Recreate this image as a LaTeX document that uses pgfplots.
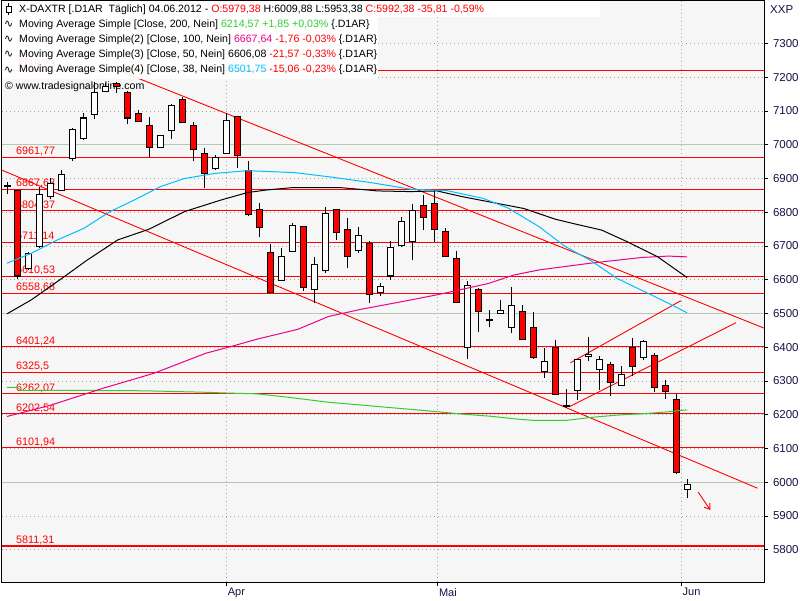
\documentclass[border=0pt]{standalone}
\usepackage{pgfplots}
\pgfplotsset{compat=1.18}
\usepackage{pgfplotstable}
\usetikzlibrary{arrows.meta}
\usepackage{fontspec}
\setmainfont{Liberation Sans}
\newfontfamily\dejavu{DejaVu Sans}

\definecolor{bg}{RGB}{246,246,246}
\definecolor{gridsolid}{RGB}{180,200,180}
\definecolor{griddot}{RGB}{165,165,165}
\definecolor{ma200}{RGB}{50,205,50}
\definecolor{ma38}{RGB}{0,191,255}
\definecolor{navy}{RGB}{20,20,70}

\newcommand{\legfont}{\fontsize{10.6}{12}\selectfont}
\newcommand{\lvlfont}{\fontsize{10.8}{12}\selectfont}
\pgfplotsset{candle/.style={draw=none, no markers, forget plot,
  error bars/.cd, y dir=plus, y explicit, error mark=none}}

% rising candles: index open high low close
\pgfplotstableread{
i o h l c
0 6877 6888 6854 6880
2 6634 6681 6630 6678
3 6698 6874 6695 6851
4 6847 6901 6839 6886
5 6863 6924 6862 6913
6 6958 7048 6953 7045
7 7017 7094 7015 7079
8 7089 7185 7076 7154
9 7157 7184 7155 7171
14 6992 7028 6990 7027
15 7043 7121 7018 7116
19 6928 6970 6924 6962
20 6975 7094 6974 7071
25 6598 6695 6596 6670
26 6684 6769 6683 6762
28 6571 6668 6530 6644
29 6627 6814 6619 6797
32 6686 6756 6680 6730
34 6563 6589 6553 6581
35 6611 6715 6599 6696
36 6702 6787 6698 6772
37 6713 6825 6657 6805
42 6400 6597 6366 6584
44 6478 6510 6459 6481
45 6500 6540 6498 6509
46 6459 6577 6443 6524
49 6327 6398 6309 6357
51 6223 6275 6220 6226
52 6272 6365 6243 6363
53 6373 6429 6359 6379
54 6334 6373 6274 6364
56 6288 6344 6284 6319
58 6369 6420 6361 6418
62 5979.38 6009.88 5953.38 5992.38
}\up

% falling candles
\pgfplotstableread{
i o h l c
1 6863 6866 6601 6611
10 7181 7185 7154 7171
11 7154 7158 7061 7079
12 7091 7104 7068 7069
13 7058 7082 6963 6992
16 7135 7140 7066 7067
17 7057 7067 6953 6985
18 6975 6990 6871 6916
21 7082 7084 6931 6968
22 6924 6953 6789 6792
23 6809 6827 6728 6756
24 6681 6706 6562 6563
27 6758 6760 6567 6577
30 6807 6808 6718 6741
31 6750 6783 6634 6670
33 6706 6715 6530 6557
38 6821 6852 6747 6785
39 6827 6866 6713 6750
40 6744 6753 6667 6669
41 6662 6686 6532 6533
43 6571 6575 6446 6506
47 6506 6525 6423 6424
48 6459 6505 6366 6371
50 6399 6421 6259 6260
55 6349 6356 6257 6295
57 6399 6427 6314 6342
59 6376 6383 6267 6280
60 6287 6304 6248 6268
61 6246 6262 6025 6028
}\dn

\pgfplotstableread{
x y
0 6281
0.9 6281
1.3 6272
7.3 6272
12.5 6271
17.6 6267
20.4 6264
22.8 6262
25.6 6252
29.3 6237
32.2 6229
35.0 6221
38.2 6212
41.5 6202
44.3 6195
46.2 6188
48.1 6183
50.9 6183
53.2 6192
55.6 6199
58.4 6204
60.3 6209
62.0 6214.57
}\maA

\pgfplotstableread{
x y
0 6195
4.05 6229
8.7 6278
13.4 6323
18.1 6382
20.4 6402
22.8 6424
26.5 6453
29.3 6491
32.2 6512
36.8 6540
39.6 6558
43.9 6589
46.2 6614
48.5 6629
53.2 6649
57.9 6666
60.3 6670
62 6667.64
}\maB

\pgfplotstableread{
x y
0 6499
2.2 6540
5.0 6604
7.3 6658
10.1 6718
12.9 6749
16.2 6802
19.5 6836
21.9 6858
23.7 6866
26.1 6873
30.3 6873
33.8 6863
36.8 6861
39.2 6863
41.5 6846
43.9 6831
47.1 6811
50.0 6779
51.8 6765
54.2 6747
56.5 6713
59.3 6668
62 6606.08
}\maC

\pgfplotstableread{
x y
0 6649
2.2 6678
4.6 6718
7.0 6752
9.4 6802
11.6 6836
14.0 6876
16.2 6900
19.0 6915
21.9 6923
24.2 6920
26.3 6917
29.8 6903
33.1 6888
36.8 6868
40.1 6864
43.4 6841
45.7 6812
48.5 6757
50.9 6698
53.2 6657
55.6 6604
58.4 6560
60.3 6530
62 6501.75
}\maD

\begin{document}
\begin{tikzpicture}[x=1pt,y=1pt]
\useasboundingbox (0,0) rectangle (800,600);
\begin{axis}[
  at={(2pt,18pt)}, anchor=south west,
  width=762pt, height=581pt, scale only axis,
  xmin=-0.456, xmax=69.0, ymin=5704.6, ymax=7425.6,
  axis background/.style={fill=bg},
  axis line style={black, line width=1pt},
  ytick={5800,5900,...,7300},
  ytick pos=right, yticklabel pos=right,
  xtick={20.02,39.27,61.48}, xticklabels={Apr,Mai,Jun},
  xtick pos=bottom,
  tick align=outside,
  major tick length=4pt,
  tick style={black, line width=0.8pt},
  ymajorgrids, xmajorgrids,
  major grid style={griddot, line width=0.8pt, dash pattern=on 1pt off 3pt},
  extra y ticks={6000,6500,7000}, extra y tick labels={,,},
  extra y tick style={grid=major, major grid style={draw=gridsolid, solid, line width=1pt}},
  yticklabel style={font=\fontsize{11.5}{13}\selectfont, text=navy, anchor=west, xshift=1.5pt},
  xticklabel style={font=\fontsize{11}{13}\selectfont, text=navy, anchor=north west, inner sep=0pt, xshift=1pt, yshift=-2pt},
  /pgf/number format/.cd, 1000 sep={}, assume math mode=true,
]
% horizontal levels
\pgfplotsinvokeforeach{7219.73,6961.77,6867.63,6804.37,6711.14,6610.53,6558.68,6401.24,6325.5,6262.07,6202.54,6101.94,5811.31}{
  \addplot[red, line width=1.2pt, forget plot] coordinates {(-1,#1) (70,#1)};
}
\node[anchor=base west, inner sep=0pt, text=red, font=\lvlfont, yshift=2.7pt] at (axis cs:0.82,7219.73) {7219,73};
\node[anchor=base west, inner sep=0pt, text=red, font=\lvlfont, yshift=2.7pt] at (axis cs:0.82,6961.77) {6961,77};
\node[anchor=base west, inner sep=0pt, text=red, font=\lvlfont, yshift=2.7pt] at (axis cs:0.82,6867.63) {6867,63};
\node[anchor=base west, inner sep=0pt, text=red, font=\lvlfont, yshift=2.7pt] at (axis cs:0.82,6804.37) {6804,37};
\node[anchor=base west, inner sep=0pt, text=red, font=\lvlfont, yshift=2.7pt] at (axis cs:0.82,6711.14) {6711,14};
\node[anchor=base west, inner sep=0pt, text=red, font=\lvlfont, yshift=2.7pt] at (axis cs:0.82,6610.53) {6610,53};
\node[anchor=base west, inner sep=0pt, text=red, font=\lvlfont, yshift=2.7pt] at (axis cs:0.82,6558.68) {6558,68};
\node[anchor=base west, inner sep=0pt, text=red, font=\lvlfont, yshift=2.7pt] at (axis cs:0.82,6401.24) {6401,24};
\node[anchor=base west, inner sep=0pt, text=red, font=\lvlfont, yshift=2.7pt] at (axis cs:0.82,6325.5) {6325,5};
\node[anchor=base west, inner sep=0pt, text=red, font=\lvlfont, yshift=2.7pt] at (axis cs:0.82,6262.07) {6262,07};
\node[anchor=base west, inner sep=0pt, text=red, font=\lvlfont, yshift=2.7pt] at (axis cs:0.82,6202.54) {6202,54};
\node[anchor=base west, inner sep=0pt, text=red, font=\lvlfont, yshift=2.7pt] at (axis cs:0.82,6101.94) {6101,94};
\node[anchor=base west, inner sep=0pt, text=red, font=\lvlfont, yshift=2.7pt] at (axis cs:0.82,5811.31) {5811,31};
\node[anchor=west, inner sep=0pt, font=\legfont] at (axis cs:-0.18,7171) {\textcopyright\ www.tradesignalonline.com};

% trend lines
\addplot[red, line width=0.9pt] coordinates {(10,7222) (69,6456.7)};
\addplot[red, line width=0.9pt] coordinates {(-0.46,6924.5) (68.4,5982.5)};
\addplot[red, line width=0.9pt] coordinates {(51.27,6224) (66.45,6472.7)};
\addplot[red, line width=0.9pt] coordinates {(51.36,6354) (61.43,6538)};
\addplot[red, line width=0.9pt, -{Straight Barb[length=5pt,width=7pt]}] coordinates {(63.0,5971) (64.1,5918)};

% candles: wick, outline, body
\addplot[candle, error bar style={draw=black, line width=1pt}] table[x=i, y=l, y error expr=\thisrow{h}-\thisrow{l}] {\up};
\addplot[candle, error bar style={draw=black, line width=1pt}] table[x=i, y=l, y error expr=\thisrow{h}-\thisrow{l}] {\dn};
\addplot[candle, error bar style={draw=black, line width=7pt}] table[x=i, y expr=\thisrow{o}-1.5, y error expr=\thisrow{c}-\thisrow{o}+3] {\up};
\addplot[candle, error bar style={draw=black, line width=7pt}] table[x=i, y expr=\thisrow{c}-1.5, y error expr=\thisrow{o}-\thisrow{c}+3] {\dn};
\addplot[candle, error bar style={draw=white, line width=5pt}] table[x=i, y expr=\thisrow{o}+1.5, y error expr=\thisrow{c}-\thisrow{o}-3] {\up};
\addplot[candle, error bar style={draw=red, line width=5pt}] table[x=i, y expr=\thisrow{c}+1.5, y error expr=\thisrow{o}-\thisrow{c}-3] {\dn};

% moving averages
\addplot[ma200, line width=1pt] table[x=x,y=y] {\maA};
\addplot[magenta, line width=1pt] table[x=x,y=y] {\maB};
\addplot[black, line width=1pt] table[x=x,y=y] {\maC};
\addplot[ma38, line width=1pt] table[x=x,y=y] {\maD};
\end{axis}

% legend block
\fill[white, opacity=0.9] (2,521) rectangle (378,599);
\fill[white, opacity=0.9] (378,583) rectangle (600,599);
\draw[black, line width=0.8pt] (8.5,584.5) -- (8.5,596.5);
\draw[black, fill=white, line width=0.8pt] (6,587.5) rectangle (11,593.5);
\node[anchor=west, inner sep=0pt, font=\legfont] at (19,590.5) {X-DAXTR [.D1AR\ \ Täglich] 04.06.2012 - \textcolor{red}{O:5979,38} H:6009,88 L:5953,38 \textcolor{red}{C:5992,38 -35,81 -0,59\%}};
\node[anchor=west, inner sep=0pt, font=\dejavu\fontsize{11}{12}\selectfont] at (4,575.5) {∿};
\node[anchor=west, inner sep=0pt, font=\dejavu\fontsize{11}{12}\selectfont] at (4,560.5) {∿};
\node[anchor=west, inner sep=0pt, font=\dejavu\fontsize{11}{12}\selectfont] at (4,545.5) {∿};
\node[anchor=west, inner sep=0pt, font=\dejavu\fontsize{11}{12}\selectfont] at (4,530) {∿};
\node[anchor=west, inner sep=0pt, font=\legfont] at (19,575.5) {Moving Average Simple [Close, 200, Nein] \textcolor{ma200}{6214,57 +1,85 +0,03\%} \{.D1AR\}};
\node[anchor=west, inner sep=0pt, font=\legfont] at (19,560.5) {Moving Average Simple(2) [Close, 100, Nein] \textcolor{magenta}{6667,64} \textcolor{red}{-1,76 -0,03\%} \{.D1AR\}};
\node[anchor=west, inner sep=0pt, font=\legfont] at (19,545.5) {Moving Average Simple(3) [Close, 50, Nein] 6606,08 \textcolor{red}{-21,57 -0,33\%} \{.D1AR\}};
\node[anchor=west, inner sep=0pt, font=\legfont] at (19,530) {Moving Average Simple(4) [Close, 38, Nein] \textcolor{ma38}{6501,75} \textcolor{red}{-15,06 -0,23\%} \{.D1AR\}};
\node[anchor=west, inner sep=0pt, text=navy, font=\fontsize{11.5}{13}\selectfont] at (770,590) {XXP};
\end{tikzpicture}
\end{document}
